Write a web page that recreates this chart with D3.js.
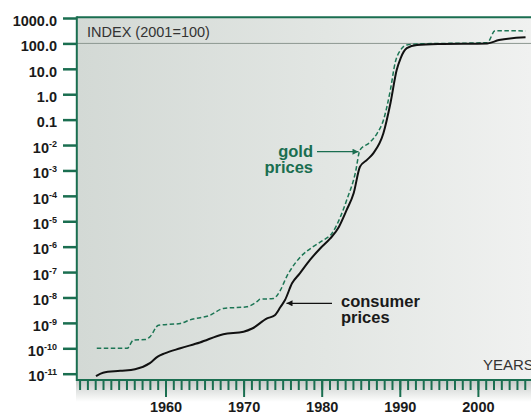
<!DOCTYPE html>
<html>
<head>
<meta charset="utf-8">
<script src="https://cdn.jsdelivr.net/npm/d3@7"></script>
<style>
  html, body { margin: 0; padding: 0; background: #fff; }
  svg { display: block; }
  text { font-family: "Liberation Sans", Arial, Helvetica, sans-serif; }
</style>
</head>
<body>
<svg id="chart" width="531" height="416"></svg>
<script>
// Consumer price index (2001 = 100), log scale
const consumerYears = [1951.1, 1952.0, 1954.2, 1956.1, 1958.0, 1959.0, 1959.9, 1961.9, 1964.4, 1967.4,
  1970.0, 1971.1, 1973.0, 1974.0, 1974.7, 1975.3, 1976.2, 1977.2, 1978.5, 1979.8,
  1981.1, 1982.2, 1983.2, 1984.1, 1984.9, 1985.8, 1986.6, 1987.9, 1988.8, 1989.6,
  1990.1, 1990.9, 1992.2, 1995.0, 2001.2, 2002.7, 2006.1];
const consumerIndex = [8.1e-12, 1.1e-11, 1.3e-11, 1.5e-11, 2.6e-11, 4.7e-11, 6.3e-11, 1.0e-10, 1.7e-10, 3.6e-10,
  4.5e-10, 6.0e-10, 1.5e-9, 2.0e-9, 4.1e-9, 7.9e-9, 3.6e-8, 8.9e-8, 3.0e-7, 8.5e-7,
  2.1e-6, 6.0e-6, 2.8e-5, 1.3e-4, 1.4e-3, 2.6e-3, 4.7e-3, 2.9e-2, 0.44, 8.9,
  26, 65, 87, 95, 100, 135, 174];

// Gold price index (2001 = 100)
const goldYears = [1951.2, 1955.1, 1955.9, 1957.4, 1958.0, 1959.1, 1961.9, 1963.1, 1965.7, 1967.4,
  1970.4, 1971.7, 1972.1, 1973.8, 1974.7, 1975.5, 1976.0, 1977.3, 1978.9, 1980.2,
  1981.3, 1982.4, 1983.2, 1984.3, 1984.9, 1986.2, 1987.1, 1987.9, 1988.8, 1989.4,
  1990.1, 1990.9, 1992.2, 2001.2, 2002.2, 2006.1];
const goldIndex = [1e-10, 1e-10, 2.1e-10, 2.2e-10, 2.8e-10, 8.1e-10, 9.5e-10, 1.3e-9, 2.0e-9, 3.7e-9,
  4.3e-9, 6.8e-9, 8.5e-9, 9.1e-9, 1.9e-8, 6.5e-8, 1.2e-7, 4.0e-7, 1.0e-6, 1.8e-6,
  3.3e-6, 1.5e-5, 6.8e-5, 7.8e-4, 6.3e-3, 1.3e-2, 2.9e-2, 9.5e-2, 1.5, 17,
  55, 87, 95, 107, 316, 309];

// Axis ticks
const yTickValues = [1000, 100, 10, 1, 0.1, 1e-2, 1e-3, 1e-4, 1e-5, 1e-6, 1e-7, 1e-8, 1e-9, 1e-10, 1e-11];
const xMinorTicks = d3.range(1949, 2007);
const xMajorTicks = [1960, 1970, 1980, 1990, 2000];

const teal = "#1a6e50";
const svg = d3.select("#chart");
const W = 531;

const plotLeft = 77, plotTop = 18, plotBottom = 380;

const x = d3.scaleLinear().domain([1960, 2000]).range([165.5, 477.9]);
const y = d3.scaleLog().domain([1e-11, 1000]).range([373.7, 18]);

const defs = svg.append("defs");
const bg = defs.append("linearGradient").attr("id", "bg").attr("x1", 0).attr("x2", 1).attr("y1", 0).attr("y2", 0);
bg.append("stop").attr("offset", "0%").attr("stop-color", "#d3d9d5");
bg.append("stop").attr("offset", "55%").attr("stop-color", "#e2e6e3");
bg.append("stop").attr("offset", "100%").attr("stop-color", "#f0f1f0");

const sh = defs.append("linearGradient").attr("id", "shadow").attr("x1", 0).attr("x2", 0).attr("y1", 0).attr("y2", 1);
sh.append("stop").attr("offset", "0%").attr("stop-color", "#c4c8c6");
sh.append("stop").attr("offset", "100%").attr("stop-color", "#ffffff");

// shadow below the plot
svg.append("rect").attr("x", plotLeft - 1).attr("y", plotBottom).attr("width", W - plotLeft + 1).attr("height", 22)
  .attr("fill", "url(#shadow)");

// plot background
svg.append("rect").attr("x", plotLeft).attr("y", plotTop).attr("width", W - plotLeft).attr("height", plotBottom - plotTop)
  .attr("fill", "url(#bg)");

// reference line at 100
svg.append("line").attr("x1", plotLeft).attr("x2", W).attr("y1", y(100)).attr("y2", y(100))
  .attr("stroke", "#8c9791").attr("stroke-width", 1);

svg.append("text").attr("x", 87).attr("y", 37).attr("font-size", 14.5).attr("fill", "#333")
  .text("INDEX (2001=100)");
svg.append("text").attr("x", 483).attr("y", 369.5).attr("font-size", 15).attr("fill", "#333")
  .text("YEARS");

// series
const line = d3.line().curve(d3.curveMonotoneX).x(d => x(d[0])).y(d => y(d[1]));
const goldPts = goldYears.map((yr, i) => [yr, goldIndex[i]]);
const cpiPts = consumerYears.map((yr, i) => [yr, consumerIndex[i]]);

svg.append("path").attr("d", line(goldPts)).attr("fill", "none")
  .attr("stroke", "#1d7655").attr("stroke-width", 1.5).attr("stroke-dasharray", "4.5,2.5");
svg.append("path").attr("d", line(cpiPts)).attr("fill", "none")
  .attr("stroke", "#111").attr("stroke-width", 2).attr("stroke-linejoin", "round");

// annotation arrows
const mk = (id, color) => {
  defs.append("marker").attr("id", id).attr("viewBox", "0 0 10 10").attr("refX", 10).attr("refY", 5)
    .attr("markerWidth", 8).attr("markerHeight", 6).attr("markerUnits", "userSpaceOnUse").attr("orient", "auto")
    .append("path").attr("d", "M0,0 L10,5 L0,10 Z").attr("fill", color);
};
mk("arrGold", teal);
mk("arrCpi", "#111");

svg.append("line").attr("x1", 317).attr("y1", 151.7).attr("x2", 358.5).attr("y2", 151.7)
  .attr("stroke", teal).attr("stroke-width", 1.3).attr("marker-end", "url(#arrGold)");
svg.append("line").attr("x1", 332).attr("y1", 303.3).attr("x2", 286.5).attr("y2", 303.3)
  .attr("stroke", "#111").attr("stroke-width", 1.3).attr("marker-end", "url(#arrCpi)");

const goldLbl = svg.append("text").attr("text-anchor", "end").attr("font-size", 16.5)
  .attr("font-weight", "bold").attr("fill", teal);
goldLbl.append("tspan").attr("x", 313).attr("y", 157.3).text("gold");
goldLbl.append("tspan").attr("x", 313).attr("y", 173.3).text("prices");

const cpiLbl = svg.append("text").attr("font-size", 16.5).attr("font-weight", "bold").attr("fill", "#1a1a1a");
cpiLbl.append("tspan").attr("x", 341).attr("y", 307.3).text("consumer");
cpiLbl.append("tspan").attr("x", 341).attr("y", 323.3).text("prices");

// frame
svg.append("line").attr("x1", plotLeft).attr("x2", W).attr("y1", 17.3).attr("y2", 17.3)
  .attr("stroke", teal).attr("stroke-width", 2);
svg.append("line").attr("x1", plotLeft).attr("x2", W).attr("y1", plotBottom).attr("y2", plotBottom)
  .attr("stroke", teal).attr("stroke-width", 2);
svg.append("line").attr("x1", 76.8).attr("x2", 76.8).attr("y1", 16.3).attr("y2", plotBottom + 1)
  .attr("stroke", teal).attr("stroke-width", 2);

// y axis
const yAxis = svg.append("g").attr("transform", "translate(76,0)")
  .call(d3.axisLeft(y).tickValues(yTickValues).tickSize(13).tickPadding(6)
    .tickFormat(d => d >= 0.1 ? d.toFixed(1) : ""));
yAxis.select(".domain").remove();
yAxis.selectAll(".tick line").attr("stroke", teal).attr("stroke-width", 2.5);
yAxis.selectAll(".tick text")
  .attr("font-size", 14.5).attr("font-weight", "bold").attr("fill", "#1a1a1a")
  .attr("font-family", "Liberation Sans, Arial, sans-serif")
  .attr("dy", 7.2)
  .each(function (d) {
    if (d < 0.1) {
      const t = d3.select(this);
      const e = Math.round(Math.log10(d));
      t.append("tspan").text("10");
      t.append("tspan").attr("font-size", 9).attr("dy", -6).text(String(e));
    }
  });

// x axis: yearly minor ticks and decade labels
const xMinor = svg.append("g").attr("transform", `translate(0,${plotBottom + 1})`)
  .call(d3.axisBottom(x).tickValues(xMinorTicks).tickSize(9).tickFormat(""));
xMinor.select(".domain").remove();
xMinor.selectAll(".tick line").attr("stroke", teal).attr("stroke-width", 2);

const xMajor = svg.append("g").attr("transform", `translate(0,${plotBottom + 1})`)
  .call(d3.axisBottom(x).tickValues(xMajorTicks).tickSize(16).tickFormat(d3.format("d")));
xMajor.select(".domain").remove();
xMajor.selectAll(".tick line").attr("stroke", teal).attr("stroke-width", 2);
xMajor.selectAll(".tick text")
  .attr("font-size", 14.5).attr("font-weight", "bold").attr("fill", "#1a1a1a")
  .attr("font-family", "Liberation Sans, Arial, sans-serif")
  .attr("y", 31).attr("dy", 0);
</script>
</body>
</html>
